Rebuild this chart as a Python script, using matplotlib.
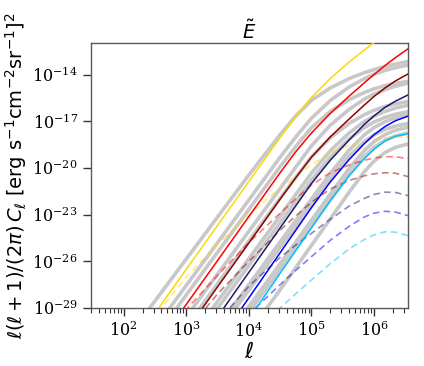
import numpy as np
import matplotlib
matplotlib.use("Agg")
import matplotlib.pyplot as plt
import matplotlib.ticker as mticker

plt.rcParams["font.family"] = ["DejaVu Serif"]
plt.rcParams["mathtext.fontset"] = "dejavusans"

# multipoles (common grid for every curve)
ell = [100, 316, 1000, 3162, 1e4, 31623, 56234, 1e5, 2e5, 4e5, 7e5, 1e6, 1.5e6, 2.2e6, 3.5e6]

# log10 of l(l+1)/(2pi) C_l
gold_solid = [-32.16, -29.34, -26.51, -23.69, -20.86, -18.04, -16.69, -15.47, -14.24, -13.19, -12.41, -11.93, -11.4, -10.9, -10.35]
red_solid = [-34.4, -31.6, -28.77, -25.95, -23.12, -20.3, -18.95, -17.75, -16.49, -15.38, -14.52, -13.99, -13.41, -12.9, -12.33]
darkred_solid = [-36.1, -33.3, -30.47, -27.64, -24.82, -22.0, -20.62, -19.3, -18.0, -16.85, -15.95, -15.4, -14.85, -14.4, -13.95]
navy_solid = [-38.2, -35.3, -32.4, -29.57, -26.71, -23.85, -22.43, -21.0, -19.5, -18.2, -17.2, -16.65, -16.1, -15.7, -15.3]
blue_solid = [-40.0, -37.1, -34.2, -31.25, -28.35, -25.45, -24.0, -22.55, -20.9, -19.46, -18.43, -17.86, -17.33, -16.96, -16.66]
sky_solid = [-41.4, -38.5, -35.6, -32.6, -29.7, -26.77, -25.31, -23.85, -22.1, -20.5, -19.4, -18.8, -18.25, -17.95, -17.8]

gold_dash = [-32.0, -29.5, -27.0, -24.9, -23.0, -21.3, -20.53, -19.8, -19.0, -18.55, -18.3, -18.15, -18.05, -18.0, -18.0]
red_dash = [-33.5, -31.2, -29.1, -26.9, -24.8, -22.9, -21.98, -21.1, -20.3, -19.8, -19.5, -19.35, -19.27, -19.27, -19.4]
darkred_dash = [-35.5, -33.0, -30.5, -28.1, -26.0, -24.0, -23.08, -22.2, -21.35, -20.8, -20.5, -20.37, -20.3, -20.33, -20.55]
navy_dash = [-37.5, -35.0, -32.5, -29.9, -27.6, -25.75, -24.95, -24.2, -23.3, -22.45, -21.95, -21.7, -21.55, -21.57, -21.77]
blue_dash = [-39.0, -36.8, -34.5, -32.0, -29.4, -27.5, -26.58, -25.7, -24.65, -23.75, -23.15, -22.9, -22.78, -22.83, -23.06]
sky_dash = [-41.0, -38.5, -36.0, -33.5, -31.0, -29.0, -28.08, -27.2, -26.15, -25.2, -24.6, -24.3, -24.1, -24.12, -24.35]

grey_1 = [-31.25, -28.55, -25.85, -23.15, -20.45, -17.85, -16.65, -15.65, -14.85, -14.25, -13.87, -13.67, -13.47, -13.31, -13.15]
grey_2 = [-33.05, -30.3, -27.55, -24.8, -22.05, -19.3, -18.0, -16.8, -15.66, -14.79, -14.25, -13.97, -13.72, -13.54, -13.38]
grey_3 = [-33.66, -30.91, -28.16, -25.41, -22.66, -19.91, -18.61, -17.41, -16.36, -15.61, -15.14, -14.91, -14.7, -14.55, -14.43]
grey_4 = [-35.07, -32.32, -29.57, -26.82, -24.07, -21.32, -19.94, -18.57, -17.25, -16.23, -15.57, -15.24, -14.96, -14.74, -14.54]
grey_5 = [-35.69, -32.94, -30.19, -27.44, -24.69, -21.94, -20.6, -19.29, -18.06, -17.13, -16.57, -16.29, -16.04, -15.87, -15.73]
grey_6 = [-36.83, -34.08, -31.33, -28.58, -25.83, -23.08, -21.7, -20.33, -18.89, -17.75, -17.01, -16.66, -16.36, -16.14, -15.96]
grey_7 = [-37.27, -34.52, -31.77, -29.02, -26.27, -23.52, -22.15, -20.77, -19.3, -18.13, -17.4, -17.04, -16.74, -16.54, -16.38]
grey_8 = [-38.5, -35.75, -33.0, -30.25, -27.5, -24.75, -23.38, -22.0, -20.35, -18.85, -17.87, -17.4, -17.02, -16.77, -16.57]
grey_9 = [-38.85, -36.1, -33.35, -30.6, -27.85, -25.1, -23.72, -22.35, -20.7, -19.23, -18.3, -17.87, -17.52, -17.3, -17.14]
grey_10 = [-39.91, -37.16, -34.41, -31.66, -28.91, -26.16, -24.76, -23.36, -21.68, -20.03, -18.88, -18.31, -17.85, -17.57, -17.37]
grey_11 = [-40.28, -37.53, -34.78, -32.03, -29.28, -26.53, -25.13, -23.73, -22.05, -20.4, -19.25, -18.68, -18.22, -17.94, -17.74]
grey_12 = [-41.58, -38.83, -36.08, -33.33, -30.58, -27.83, -26.4, -24.98, -23.27, -21.56, -20.24, -19.56, -19.0, -18.67, -18.45]

greys = [grey_1, grey_2, grey_3, grey_4, grey_5, grey_6,
         grey_7, grey_8, grey_9, grey_10, grey_11, grey_12]
solids = [gold_solid, red_solid, darkred_solid, navy_solid, blue_solid, sky_solid]
dashes = [gold_dash, red_dash, darkred_dash, navy_dash, blue_dash, sky_dash]
colors = ["#FFD700", "#FF0000", "#8B0000", "#191970", "#0000FF", "#00BFFF"]

fig = plt.figure(figsize=(4.24, 3.66), dpi=100)
ax = fig.add_axes([0.2146, 0.1585, 0.7477, 0.724])

for g in greys:
    ax.plot(ell, 10.0 ** np.array(g), color="#c8c8c8", lw=2.6, zorder=1)
for s, c in zip(solids, colors):
    ax.plot(ell, 10.0 ** np.array(s), color=c, lw=1.1, zorder=3)
for d, c in zip(dashes, colors):
    ax.plot(ell, 10.0 ** np.array(d), color=c, lw=1.2, ls=(0, (4, 2.5)), alpha=0.5, zorder=2)

ax.set_xscale("log")
ax.set_yscale("log")
ax.set_xlim(30, 3.5e6)
ax.set_ylim(1e-29, 1.1e-12)
ax.set_yticks([1e-29, 1e-26, 1e-23, 1e-20, 1e-17, 1e-14])
ax.yaxis.set_minor_locator(mticker.NullLocator())
ax.xaxis.set_major_locator(mticker.LogLocator(base=10, numticks=10))
ax.xaxis.set_minor_locator(mticker.LogLocator(base=10, subs=np.arange(2, 10), numticks=20))

ax.tick_params(which="major", direction="out", length=6, width=1, labelsize=11.5, color="0.2")
ax.tick_params(which="minor", direction="out", length=3.5, width=0.8, color="0.2")
for sp in ax.spines.values():
    sp.set_color("0.35")
    sp.set_linewidth(1.0)

ax.set_title(r"$\tilde{E}$", fontsize=14, pad=3)
ax.set_xlabel(r"$\ell$", fontsize=16, labelpad=0)
ax.set_ylabel(r"$\ell(\ell+1)/(2\pi)\,C_\ell$ [erg s$^{-1}$cm$^{-2}$sr$^{-1}$]$^2$",
              fontsize=14, labelpad=2, fontfamily="DejaVu Sans")

fig.savefig("out.png", dpi=100)
